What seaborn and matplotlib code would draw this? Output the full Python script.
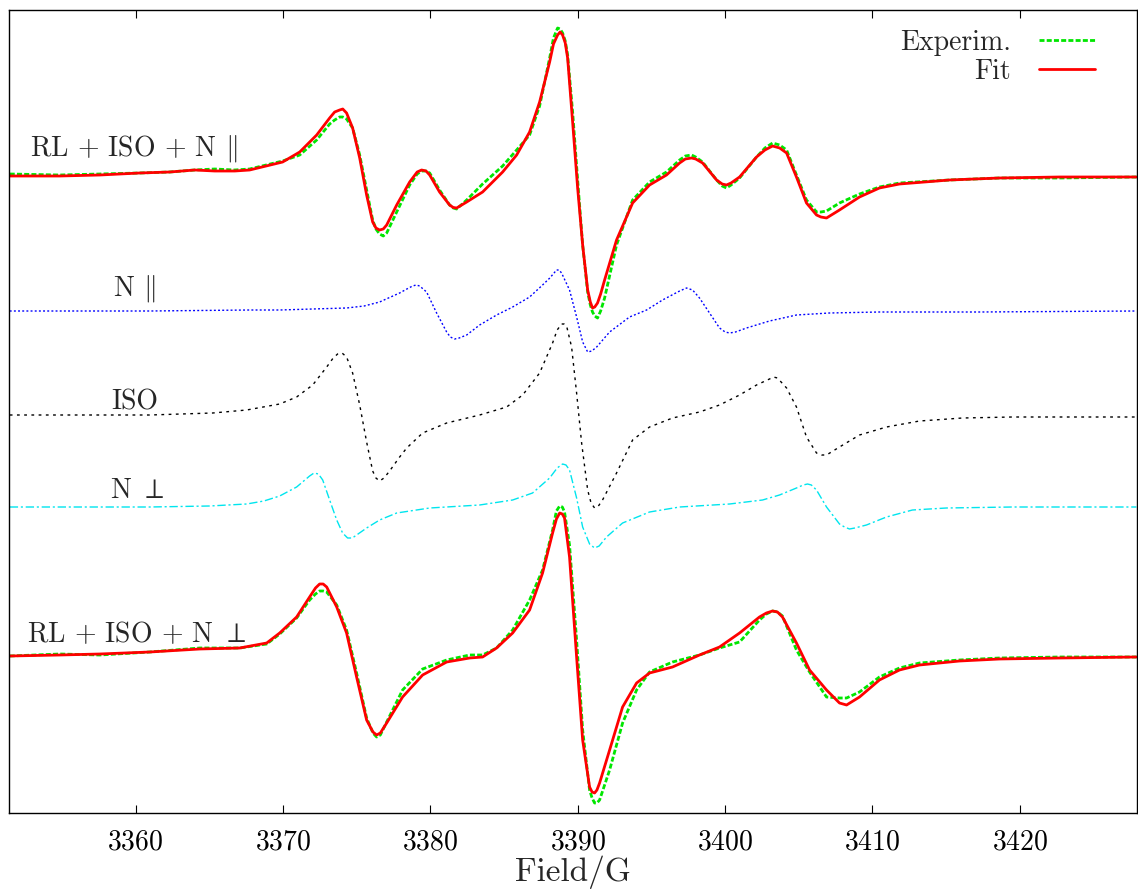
import numpy as np
import pandas as pd
import matplotlib
matplotlib.use("Agg")
import matplotlib.pyplot as plt
import seaborn as sns

sns.set_style("ticks")
plt.rcParams['font.family'] = ['cmr10', 'DejaVu Serif']
plt.rcParams['mathtext.fontset'] = 'cm'
plt.rcParams['axes.formatter.use_mathtext'] = True

# ---------------- data (field in G, signal in arbitrary units) ----------------
field_top = [3351.45, 3354.84, 3357.56, 3360.27, 3362.31, 3364.00, 3365.36, 3366.72, 3367.73,
             3369.97, 3371.13, 3372.28, 3373.16, 3373.50, 3373.84, 3374.05, 3374.31, 3374.72,
             3375.20, 3375.67, 3376.08, 3376.30, 3376.55, 3376.80, 3377.03, 3377.71, 3378.59,
             3379.10, 3379.40, 3379.70, 3379.95, 3380.62, 3381.30, 3381.55, 3381.78, 3382.46,
             3383.54, 3384.90, 3385.85, 3386.73, 3387.41, 3388.09, 3388.35, 3388.63, 3388.80,
             3388.97, 3389.15, 3389.31, 3389.65, 3389.99, 3390.33, 3390.67, 3390.85, 3391.00,
             3391.15, 3391.34, 3391.55, 3391.82, 3392.63, 3393.72, 3394.87, 3396.02, 3396.91,
             3397.30, 3397.72, 3398.00, 3398.47, 3399.42, 3399.80, 3400.09, 3400.40, 3400.98,
             3402.13, 3402.70, 3403.22, 3403.70, 3404.17, 3404.84, 3405.52, 3406.20, 3406.50,
             3406.88, 3407.76, 3409.12, 3410.47, 3411.83, 3415.22, 3418.62, 3422.69, 3427.91]
fit_top = [0, 0, 1, 3, 4, 6, 5, 5, 6,
           14, 24, 41, 58, 64, 66, 67, 63, 48,
           18, -19, -46, -52, -54, -53, -49, -29, -6,
           4, 6, 5, 1, -16, -29, -31.5, -32, -26,
           -16, 4, 21, 44, 74, 114, 132, 141, 144,
           141, 133, 118, 54, -12, -69, -114, -126, -132,
           -131, -127, -118, -104, -64, -27, -9, 1, 13,
           17, 18, 17, 13, -4, -8, -9, -7, -1,
           19, 26, 30, 28, 23, -1, -27, -39, -41,
           -42, -34, -21, -12, -8, -4, -2, -1, -1]
exp_top = [2, 1, 2, 3, 4, 6, 7, 6, 7,
           15, 21, 36, 52, 56, 59, 59, 57, 48,
           21, -14, -44, -53, -58, -60, -57, -36, -9,
           2, 5, 5, 3, -14, -29, -32, -33, -24,
           -8, 10, 26, 41, 70, 118, 138, 148, 147,
           143, 135, 121, 64, -4, -69, -116, -129, -136,
           -140, -142, -135, -122, -69, -24, -6, 4, 16,
           20, 21, 19, 14, -4, -10, -12, -9, -2,
           19, 28, 33, 31, 26, 1, -24, -36, -36,
           -35, -27, -18, -11, -7, -4, -2, -2, -1]

field_npar = [3351.45, 3360.95, 3367.73, 3369.77, 3372.01, 3374.31, 3375.50, 3376.55, 3377.30,
              3377.91, 3378.40, 3378.79, 3379.03, 3379.27, 3379.74, 3380.42, 3381.10, 3381.35,
              3381.64, 3381.95, 3382.46, 3383.34, 3384.49, 3385.58, 3386.73, 3387.61, 3388.10,
              3388.56, 3388.73, 3388.90, 3389.44, 3389.92, 3390.33, 3390.67, 3390.95, 3391.28,
              3392.16, 3393.51, 3394.67, 3395.75, 3396.91, 3397.38, 3397.79, 3398.26, 3398.94,
              3399.62, 3400.00, 3400.30, 3400.70, 3401.45, 3403.01, 3404.84, 3407.08, 3410.47,
              3417.26, 3427.91]
npar = [0, 0, 1, 1, 2, 3, 5, 9, 14,
        18, 22, 25, 26, 25, 19, -2, -21, -26,
        -28, -27, -24, -14, -4, 4, 14, 26, 33,
        41, 41, 38, 21, -6, -31, -41, -40, -36,
        -21, -6, 1, 11, 20, 23, 21, 13, -2,
        -17, -21, -22, -21, -17, -10, -4, -2, -1,
        -1, 0]

field_iso = [3351.45, 3360.95, 3365.22, 3367.53, 3369.77, 3370.92, 3372.01, 3372.96, 3373.40,
             3373.70, 3374.00, 3374.31, 3374.72, 3375.20, 3375.67, 3376.08, 3376.30, 3376.55,
             3376.85, 3377.23, 3377.91, 3378.39, 3379.47, 3381.10, 3383.34, 3385.17, 3386.26,
             3387.41, 3388.29, 3388.60, 3388.90, 3389.07, 3389.24, 3389.58, 3389.92, 3390.26,
             3390.67, 3390.90, 3391.14, 3391.40, 3391.68, 3392.63, 3393.72, 3394.87, 3396.43,
             3398.26, 3399.62, 3400.98, 3402.13, 3403.01, 3403.28, 3403.55, 3404.17, 3404.84,
             3405.52, 3406.20, 3406.55, 3406.88, 3407.76, 3409.12, 3410.95, 3413.19, 3416.11,
             3419.50, 3427.91]
iso = [0, 0, 2, 5, 11, 18, 30, 48, 57,
       61, 62, 58, 42, 10, -27, -56, -63, -66,
       -63, -56, -42, -33, -18, -8, 0, 8, 20,
       42, 72, 85, 91, 91, 89, 68, 22, -28,
       -75, -88, -93, -91, -85, -58, -25, -12, -3,
       3, 10, 20, 30, 36, 38, 37, 27, 8,
       -22, -38, -40, -40, -32, -20, -12, -6, -3,
       -2, -2]

field_nperp = [3351.45, 3360.95, 3365.00, 3367.53, 3368.70, 3369.77, 3370.92, 3371.80, 3372.10,
               3372.40, 3372.69, 3373.16, 3373.64, 3374.04, 3374.38, 3374.70, 3374.99, 3375.67,
               3376.55, 3377.71, 3379.95, 3383.34, 3385.58, 3386.93, 3388.09, 3388.60, 3388.97,
               3389.20, 3389.44, 3389.92, 3390.33, 3390.80, 3391.14, 3391.45, 3391.95, 3393.04,
               3394.87, 3396.91, 3400.30, 3402.54, 3403.69, 3404.84, 3405.30, 3405.59, 3405.85,
               3406.20, 3406.88, 3407.76, 3408.10, 3408.44, 3408.80, 3409.59, 3410.95, 3412.71,
               3415.02, 3419.50, 3427.91]
nperp = [0, 0, 1, 3, 6, 11, 20, 31, 34,
         33, 27, 7, -13, -26, -31, -31, -28, -21,
         -13, -6, -1, 2, 7, 14, 29, 39, 43,
         42, 37, 9, -20, -37, -41, -39, -30, -16,
         -5, 0, 3, 7, 12, 19, 22, 23, 22,
         17, 0, -17, -20, -22, -21, -18, -10, -3,
         -1, 0, 0]

field_bot = [3351.45, 3354.84, 3357.56, 3360.95, 3364.34, 3367.06, 3368.89, 3369.77, 3370.92,
             3371.80, 3372.20, 3372.48, 3372.72, 3372.96, 3373.64, 3374.31, 3374.99, 3375.67,
             3376.10, 3376.35, 3376.60, 3377.03, 3378.11, 3379.47, 3381.10, 3382.66, 3383.54,
             3384.49, 3385.58, 3386.73, 3387.61, 3388.29, 3388.55, 3388.77, 3388.95, 3389.10,
             3389.44, 3389.92, 3390.33, 3390.80, 3390.97, 3391.14, 3391.30, 3391.48, 3392.16,
             3393.04, 3393.99, 3394.87, 3396.43, 3398.26, 3399.62, 3400.98, 3402.33, 3402.80,
             3403.22, 3403.55, 3403.89, 3404.84, 3405.73, 3406.88, 3407.76, 3408.24, 3409.12,
             3410.47, 3411.83, 3413.19, 3415.90, 3418.62, 3422.69, 3427.91]
fit_bot = [1, 2, 3, 5, 8, 9, 14, 24, 40,
           60, 69, 73, 73, 70, 50, 24, -20, -63,
           -75, -78, -76, -66, -40, -18, -5, -1, 0,
           9, 24, 47, 84, 124, 138, 144, 143, 139,
           100, 0, -83, -130, -135, -136, -133, -126, -93,
           -50, -26, -16, -10, 2, 10, 24, 40, 44,
           46, 45, 40, 14, -13, -33, -46, -48, -40,
           -23, -13, -8, -4, -2, -1, 0]
exp_bot = [1, 3, 2, 5, 9, 9, 13, 23, 39,
           57, 63, 66, 66, 65, 52, 27, -16, -61,
           -76, -80, -78, -65, -33, -12, -3, 2, 2,
           9, 27, 57, 87, 127, 146, 151, 150, 145,
           112, 17, -73, -133, -141, -146, -146, -143, -113,
           -66, -33, -15, -5, 2, 9, 15, 37, 43,
           46, 45, 41, 7, -15, -40, -41, -41, -35,
           -20, -11, -6, -3, -1, 0, 0]

# vertical offsets of the stacked traces
OFF_TOP, OFF_NPAR, OFF_ISO, OFF_NPERP, OFF_BOT = 715, 580, 476, 384, 234

x_ticks = [3360, 3370, 3380, 3390, 3400, 3410, 3420]
labels = ["RL + ISO + N $\\|$", "N $\\|$", "ISO", "N $\\perp$", "RL + ISO + N $\\perp$"]

# ---------------- figure ----------------
fig = plt.figure(figsize=(11.38, 8.91), dpi=100)
ax = fig.add_axes([9/1138, 78/891, 1128/1138, 803/891])

def draw(xs, ys, off, **kw):
    df = pd.DataFrame({"x": xs, "y": np.asarray(ys, float) + off})
    sns.lineplot(data=df, x="x", y="y", ax=ax, estimator=None, sort=False, **kw)

green = "#00e600"
draw(field_top, exp_top, OFF_TOP, color=green, lw=2.0, linestyle=(0, (1.8, 0.8)), label="Experim.")
draw(field_top, fit_top, OFF_TOP, color="#ff0000", lw=2.0, label="Fit")
draw(field_npar, npar, OFF_NPAR, color="#0000ff", lw=1.0, linestyle=(0, (1.4, 1.6)))
draw(field_iso, iso, OFF_ISO, color="black", lw=1.0, linestyle=(0, (2.0, 3.2)))
draw(field_nperp, nperp, OFF_NPERP, color="#00e5ee", lw=1.0, linestyle=(0, (6, 2, 1.5, 2)))
draw(field_bot, exp_bot, OFF_BOT, color=green, lw=2.0, linestyle=(0, (1.8, 0.8)))
draw(field_bot, fit_bot, OFF_BOT, color="#ff0000", lw=2.0)

ax.set_xlim(3351.4, 3427.95)
ax.set_ylim(78, 881)
ax.set_xticks(x_ticks)
ax.set_yticks([])
ax.tick_params(axis="x", direction="in", top=True, length=6, width=0.8,
               labelsize=20, pad=12, colors="black")
for s in ax.spines.values():
    s.set_visible(True)
    s.set_color("black")
    s.set_linewidth(1.0)
ax.set_xlabel("Field/G", fontsize=24, labelpad=0)
ax.set_ylabel("")

txt = dict(fontsize=20, va="baseline", ha="left")
ax.text(3352.81, 735, labels[0], **txt)
ax.text(3358.44, 595, labels[1], **txt)
ax.text(3358.37, 482, labels[2], **txt)
ax.text(3358.24, 393, labels[3], **txt)
ax.text(3352.61, 249, labels[4], **txt)

leg = ax.legend(loc="upper right", frameon=False, markerfirst=False, fontsize=20,
                handlelength=2.0, handletextpad=1.0, labelspacing=0.1,
                borderaxespad=0.6, bbox_to_anchor=(0.987, 1.01))

fig.savefig("out.png", dpi=100)
